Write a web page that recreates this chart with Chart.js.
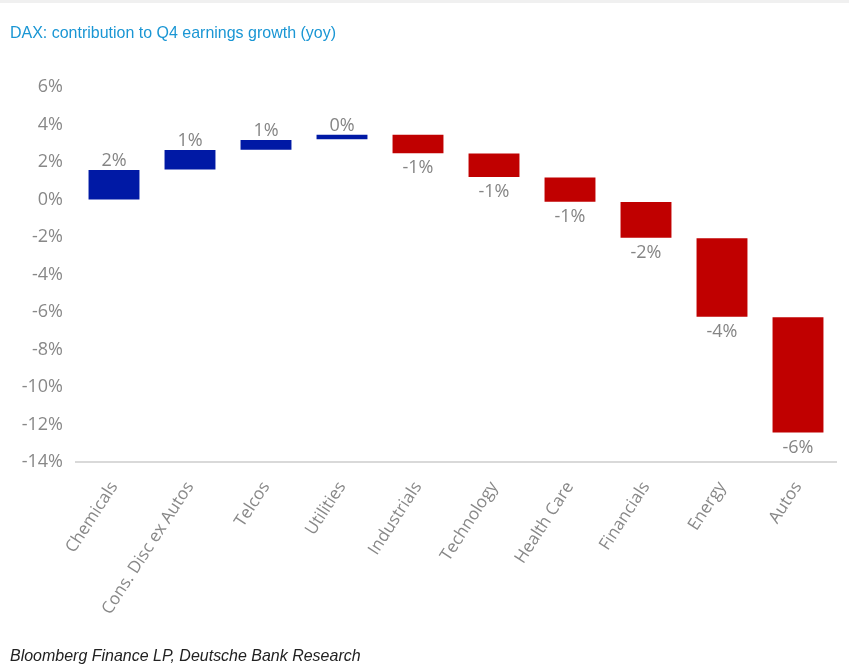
<!DOCTYPE html>
<html>
<head>
<meta charset="utf-8">
<script src="https://cdn.jsdelivr.net/npm/chart.js@4.4.0/dist/chart.umd.min.js"></script>
<style>
  html, body { margin: 0; padding: 0; background: #fff; width: 849px; height: 672px; overflow: hidden; }
  #wrap { position: relative; width: 849px; height: 672px; }
  #topline { position: absolute; left: 0; top: 0; width: 849px; height: 3px; background: #f0f0f0; }
  #title { position: absolute; left: 10px; top: 23px; font-family: "Liberation Sans", Arial, sans-serif; font-size: 17px; color: #1a96d4; white-space: nowrap; transform: scaleX(0.94); transform-origin: left center; }
  #source { position: absolute; left: 10px; top: 646px; font-family: "Liberation Sans", Arial, sans-serif; font-style: italic; font-size: 17px; color: #222; white-space: nowrap; transform: scaleX(0.94); transform-origin: left center; }
  canvas { position: absolute; left: 0; top: 0; }
</style>
</head>
<body>
<div id="wrap">
  <div id="topline"></div>
  <canvas id="c" width="849" height="672"></canvas>
  <div id="title">DAX: contribution to Q4 earnings growth (yoy)</div>
  <div id="source">Bloomberg Finance LP, Deutsche Bank Research</div>
</div>
<script>
// Categories (sectors)
const categories = ["Chemicals", "Cons. Disc ex Autos", "Telcos", "Utilities", "Industrials", "Technology", "Health Care", "Financials", "Energy", "Autos"];
// Floating bar start / end values (% points)
const barStart = [0.00, 1.60, 2.66, 3.22, 3.46, 2.45, 1.18, -0.13, -2.07, -6.28];
const barEnd   = [1.57, 2.64, 3.17, 3.46, 2.47, 1.20, -0.12, -2.04, -6.25, -12.43];
// Data labels (rounded contributions)
const barLabels = ["2%", "1%", "1%", "0%", "-1%", "-1%", "-1%", "-2%", "-4%", "-6%"];
// Y-axis ticks
const yMin = -14, yMax = 6, yStep = 2;

const BLUE = "#0019a5", RED = "#c00000";
const ranges = categories.map((_, i) => [barStart[i], barEnd[i]]);
const colors = categories.map((_, i) => barEnd[i] >= barStart[i] ? BLUE : RED);

const labelPlugin = {
  id: "barLabels",
  afterDatasetsDraw(chart) {
    const ctx = chart.ctx;
    const meta = chart.getDatasetMeta(0);
    const y = chart.scales.y;
    ctx.save();
    ctx.font = "18px 'Open Sans', sans-serif";
    ctx.fillStyle = "#858585";
    ctx.textAlign = "center";
    ctx.textBaseline = "alphabetic";
    meta.data.forEach((bar, i) => {
      const up = barEnd[i] >= barStart[i];
      const top = y.getPixelForValue(Math.max(barStart[i], barEnd[i]));
      const bot = y.getPixelForValue(Math.min(barStart[i], barEnd[i]));
      if (up) {
        ctx.fillText(barLabels[i], bar.x, top - 4);
      } else {
        ctx.fillText(barLabels[i], bar.x, bot + 20);
      }
    });
    ctx.restore();
  }
};

new Chart(document.getElementById("c"), {
  type: "bar",
  data: {
    labels: categories,
    datasets: [{
      data: ranges,
      backgroundColor: colors,
      borderColor: colors,
      borderWidth: 0,
      borderSkipped: false,
      categoryPercentage: 1.0,
      barPercentage: 0.67
    }]
  },
  options: {
    responsive: false,
    animation: false,
    devicePixelRatio: 1,
    layout: { padding: { top: 87, left: 0, right: 13, bottom: 20 } },
    plugins: { legend: { display: false }, tooltip: { enabled: false }, title: { display: false } },
    scales: {
      y: {
        min: yMin, max: yMax,
        ticks: {
          stepSize: yStep,
          color: "#888888",
          font: { family: "'Open Sans', sans-serif", size: 18 },
          padding: 5,
          callback: v => v + "%"
        },
        grid: { display: false },
        border: { display: false },
        afterFit: s => { s.width = 76; }
      },
      x: {
        ticks: {
          color: "#888888",
          font: { family: "'Open Sans', sans-serif", size: 17 },
          minRotation: 57, maxRotation: 57,
          padding: 16
        },
        grid: { display: false, drawTicks: false },
        border: { display: true, color: "#d9d9d9", width: 2 },
        afterFit: s => { s.height = 672 - 462 - 20; }
      }
    }
  },
  plugins: [labelPlugin]
});
</script>
</body>
</html>
